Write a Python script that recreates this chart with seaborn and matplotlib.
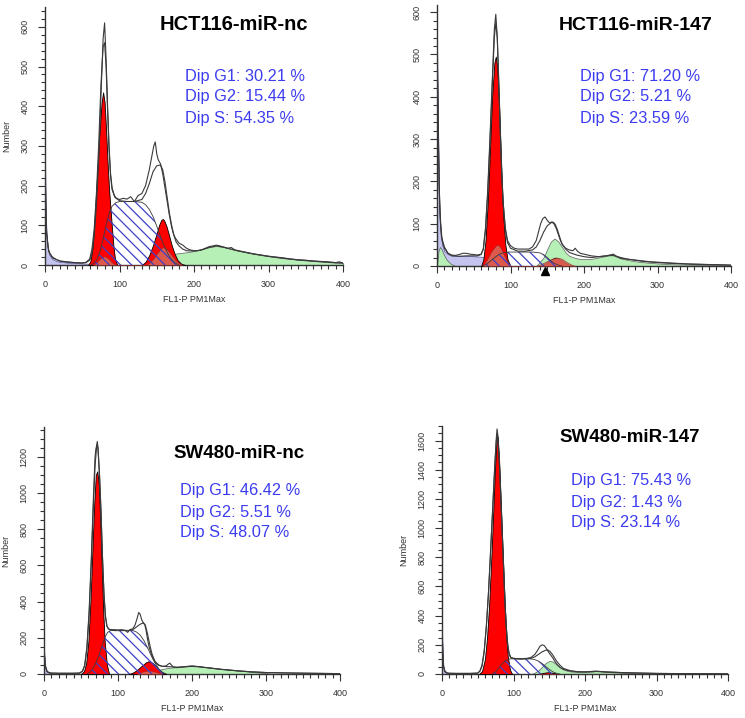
import numpy as np
import pandas as pd
import seaborn as sns
import matplotlib.pyplot as plt
from matplotlib.ticker import MultipleLocator
import matplotlib.transforms as mtransforms

# ---------------- panel titles / percentages ----------------
titles = ["HCT116-miR-nc", "HCT116-miR-147", "SW480-miR-nc", "SW480-miR-147"]
dip_g1 = ["30.21", "71.20", "46.42", "75.43"]
dip_g2 = ["15.44", "5.21", "5.51", "1.43"]
dip_s = ["54.35", "23.59", "48.07", "23.14"]

# ---------------- HCT116-miR-nc ----------------
p1_raw_x = [0, 1, 2, 4, 6, 10, 15, 20, 30, 40, 50, 55, 60, 63, 66, 69, 72, 75, 78, 80, 82, 84, 86, 88, 90, 93, 96,
            100, 105, 110, 115, 120, 125, 130, 135, 140, 143, 146, 148, 150, 152, 155, 158, 161, 164, 167, 170, 173,
            176, 180, 185, 190, 195, 200, 205, 210, 215, 220, 225, 230, 235, 240, 245, 250, 255, 260, 270, 280, 290,
            300, 310, 320, 330, 340, 350, 360, 370, 380, 390, 395, 400]
p1_raw_y = [280, 150, 90, 45, 30, 20, 14, 10, 8, 6, 5, 6, 12, 30, 70, 150, 260, 420, 570, 610, 520, 400, 300, 230,
            195, 175, 168, 165, 168, 166, 172, 160, 175, 180, 200, 240, 270, 300, 310, 280, 265, 255, 230, 195, 160,
            125, 95, 75, 65, 55, 50, 42, 38, 36, 36, 38, 42, 46, 48, 50, 48, 45, 42, 44, 38, 36, 32, 28, 25, 22, 20,
            18, 15, 13, 12, 10, 9, 8, 6, 8, 5]
p1_fit_x = [0, 2, 5, 10, 20, 30, 40, 50, 55, 60, 63, 66, 69, 72, 75, 78, 80, 82, 84, 86, 88, 90, 94, 100, 110, 120,
            130, 135, 140, 145, 150, 155, 158, 161, 164, 167, 170, 173, 176, 180, 185, 190, 200, 210, 220, 230, 240,
            250, 260, 280, 300, 320, 340, 360, 380, 400]
p1_fit_y = [250, 80, 35, 18, 10, 7, 6, 5, 7, 15, 40, 90, 180, 300, 450, 550, 560, 500, 390, 290, 225, 190, 170, 162,
            160, 160, 165, 180, 205, 235, 250, 252, 240, 210, 170, 130, 100, 75, 58, 48, 40, 36, 35, 38, 44, 48, 45,
            40, 35, 28, 22, 17, 13, 10, 7, 5]
p1_debris_x = [0, 1, 2, 4, 6, 10, 15, 20, 30, 40, 50, 60, 70]
p1_debris_y = [280, 140, 80, 40, 25, 15, 10, 8, 6, 5, 4, 3, 0]
p1_g1_x = [58, 61, 64, 67, 70, 73, 76, 78, 80, 82, 84, 86, 88, 90, 92, 94, 97]
p1_g1_y = [0, 10, 45, 130, 230, 330, 410, 435, 410, 340, 260, 190, 140, 90, 45, 15, 0]
p1_s_x = [62, 66, 70, 74, 78, 82, 86, 90, 95, 100, 110, 120, 130, 135, 140, 145, 150, 155, 160, 165, 170, 175, 180]
p1_s_y = [0, 5, 15, 35, 65, 100, 130, 148, 157, 160, 160, 160, 158, 152, 140, 122, 98, 72, 48, 28, 14, 5, 0]
p1_g2_x = [130, 135, 140, 145, 150, 153, 156, 158, 160, 163, 166, 170, 174, 178, 183, 188]
p1_g2_y = [0, 8, 25, 50, 80, 100, 113, 116, 112, 98, 78, 50, 28, 12, 3, 0]
p1_agg_x = [65, 70, 75, 80, 85, 90, 95, 135, 140, 145, 150, 155, 158, 162, 166, 170, 175, 180, 185]
p1_agg_y = [0, 8, 18, 22, 16, 6, 0, 0, 5, 15, 28, 40, 45, 42, 34, 24, 12, 4, 0]
p1_green_x = [140, 150, 160, 170, 180, 190, 200, 210, 220, 230, 240, 250, 260, 270, 280, 290, 300, 320, 340, 360,
              380, 400]
p1_green_y = [0, 10, 20, 27, 30, 32, 35, 40, 45, 48, 45, 40, 36, 32, 28, 25, 22, 17, 13, 10, 7, 5]

# ---------------- HCT116-miR-147 ----------------
p2_raw_x = [0, 1, 2, 3, 5, 7, 10, 15, 20, 25, 30, 35, 40, 45, 50, 55, 60, 63, 66, 69, 72, 75, 78, 80, 82, 84, 86,
            88, 90, 93, 96, 100, 105, 110, 115, 120, 125, 130, 135, 138, 141, 144, 147, 150, 153, 156, 159, 162, 165,
            168, 171, 175, 180, 185, 188, 191, 195, 200, 210, 220, 230, 235, 240, 245, 250, 260, 270, 280, 290, 300,
            310, 320, 340, 360, 380, 400]
p2_raw_y = [540, 420, 300, 180, 100, 60, 42, 30, 26, 25, 27, 30, 30, 28, 27, 26, 28, 40, 90, 180, 300, 430, 560, 595,
            540, 430, 320, 220, 150, 90, 60, 48, 42, 40, 40, 40, 40, 45, 60, 80, 100, 112, 116, 108, 102, 104, 100,
            90, 75, 60, 50, 42, 38, 36, 42, 35, 30, 28, 24, 22, 24, 26, 28, 22, 18, 16, 14, 12, 10, 9, 8, 7, 5, 4, 3,
            2]
p2_fit_x = [0, 2, 4, 6, 10, 15, 20, 30, 40, 50, 55, 60, 63, 66, 69, 72, 75, 78, 80, 82, 84, 86, 88, 90, 93, 96, 100,
            110, 120, 130, 135, 140, 145, 150, 155, 158, 161, 164, 167, 170, 175, 180, 190, 200, 210, 220, 230, 240,
            250, 260, 280, 300, 320, 350, 380, 400]
p2_fit_y = [520, 280, 120, 70, 45, 30, 24, 23, 24, 24, 24, 27, 40, 85, 170, 290, 420, 540, 575, 540, 440, 330, 230,
            150, 85, 55, 42, 35, 35, 38, 45, 60, 80, 95, 102, 104, 98, 85, 68, 52, 40, 32, 26, 22, 20, 22, 24, 25, 20,
            16, 11, 8, 6, 4, 3, 2]
p2_debris_x = [0, 1, 2, 3, 5, 7, 10, 15, 20, 30, 40, 50, 60, 65, 70, 80, 90]
p2_debris_y = [540, 400, 260, 150, 80, 50, 35, 28, 25, 24, 24, 23, 22, 20, 15, 6, 0]
p2_g1_x = [60, 63, 66, 69, 72, 75, 78, 80, 82, 84, 86, 88, 90, 93, 96, 100]
p2_g1_y = [0, 15, 60, 150, 270, 400, 480, 495, 470, 400, 300, 200, 120, 50, 15, 0]
p2_s_x = [62, 66, 70, 75, 80, 85, 90, 95, 100, 110, 120, 130, 140, 145, 150, 155, 160, 165, 170]
p2_s_y = [0, 3, 8, 15, 22, 28, 31, 33, 33, 33, 33, 33, 31, 27, 20, 12, 6, 2, 0]
p2_g2_x = [138, 145, 150, 155, 158, 161, 165, 170, 175, 180, 185]
p2_g2_y = [0, 4, 9, 15, 18, 20, 18, 13, 7, 3, 0]
p2_agg_x = [62, 68, 74, 80, 83, 86, 90, 95, 100, 135, 142, 150, 158, 164, 170, 176, 182, 188]
p2_agg_y = [0, 15, 35, 48, 50, 45, 30, 12, 0, 0, 5, 12, 18, 20, 17, 10, 4, 0]
p2_green_x = [0, 2, 4, 6, 9, 13, 18, 25, 135, 145, 150, 155, 160, 165, 170, 175, 180, 190, 200, 210, 220, 230, 235,
              240, 250, 260, 270, 280, 300, 320, 350, 400]
p2_green_y = [0, 35, 45, 40, 28, 15, 6, 0, 0, 20, 40, 58, 65, 58, 45, 32, 24, 18, 16, 17, 20, 24, 26, 25, 18, 14, 11,
              9, 6, 4, 3, 1]
p2_marker_x = 147

# ---------------- SW480-miR-nc ----------------
p3_raw_x = [0, 1, 2, 4, 7, 10, 20, 30, 40, 48, 52, 55, 58, 61, 64, 67, 69, 70, 71, 72, 73, 75, 77, 79, 81, 83, 85,
            87, 90, 95, 100, 105, 110, 113, 116, 120, 123, 126, 128, 130, 132, 134, 136, 138, 140, 142, 145, 148, 151,
            155, 160, 165, 168, 170, 172, 175, 180, 185, 190, 195, 200, 205, 210, 220, 230, 240, 250, 260, 270, 280,
            290, 300, 320, 340, 360, 380, 400]
p3_raw_y = [140, 80, 40, 15, 8, 5, 4, 4, 4, 5, 15, 50, 150, 350, 650, 1000, 1200, 1240, 1260, 1285, 1250, 1100, 900,
            650, 450, 320, 265, 250, 245, 245, 243, 245, 240, 230, 245, 250, 270, 310, 340, 330, 300, 285, 275, 240,
            190, 150, 110, 80, 60, 48, 42, 45, 55, 60, 50, 38, 35, 38, 40, 43, 45, 43, 40, 35, 30, 25, 22, 18, 15, 12,
            10, 8, 6, 5, 4, 3, 2]
p3_fit_x = [0, 2, 4, 8, 20, 40, 48, 52, 55, 58, 61, 64, 67, 69, 71, 72, 73, 75, 77, 79, 81, 83, 85, 88, 95, 105, 115,
            120, 125, 130, 134, 137, 140, 143, 146, 150, 155, 160, 170, 180, 190, 200, 210, 220, 240, 260, 280, 300,
            340, 400]
p3_fit_y = [130, 40, 12, 5, 4, 4, 5, 15, 45, 140, 330, 620, 960, 1150, 1250, 1270, 1240, 1100, 900, 650, 440, 320,
            265, 245, 240, 240, 240, 245, 260, 275, 282, 270, 220, 160, 110, 70, 50, 42, 40, 38, 40, 42, 40, 35, 26,
            18, 12, 8, 5, 2]
p3_debris_x = [0, 1, 2, 4, 7, 10, 15]
p3_debris_y = [140, 80, 40, 15, 6, 3, 0]
p3_g1_x = [50, 54, 57, 60, 63, 66, 68, 70, 72, 74, 76, 78, 80, 82, 85, 88]
p3_g1_y = [0, 15, 60, 180, 420, 750, 950, 1100, 1120, 1050, 850, 600, 350, 180, 50, 0]
p3_s_x = [58, 62, 66, 70, 74, 78, 82, 86, 90, 95, 100, 110, 120, 125, 130, 135, 140, 145, 150, 155, 160, 165]
p3_s_y = [0, 10, 30, 60, 100, 150, 200, 230, 240, 242, 242, 242, 240, 232, 215, 185, 145, 100, 60, 30, 10, 0]
p3_g2_x = [115, 120, 125, 130, 135, 138, 141, 144, 147, 150, 155, 160, 165]
p3_g2_y = [0, 8, 20, 38, 55, 65, 70, 68, 60, 48, 25, 8, 0]
p3_agg_x = [125, 135, 142, 150, 160]
p3_agg_y = [0, 15, 20, 12, 0]
p3_green_x = [140, 150, 160, 170, 180, 190, 200, 210, 220, 230, 240, 250, 260, 270, 280, 290, 300, 310]
p3_green_y = [0, 15, 28, 35, 38, 42, 45, 42, 38, 33, 28, 24, 20, 16, 12, 8, 5, 0]

# ---------------- SW480-miR-147 ----------------
p4_raw_x = [0, 1, 2, 4, 7, 10, 20, 40, 50, 53, 56, 59, 62, 65, 68, 71, 74, 76, 77, 78, 80, 82, 84, 86, 88, 90, 92,
            94, 96, 100, 105, 110, 115, 120, 125, 130, 134, 137, 140, 143, 146, 149, 152, 155, 158, 161, 165, 170,
            175, 180, 190, 200, 210, 215, 220, 230, 240, 250, 260, 270, 280, 290, 300, 320, 340, 360, 380, 400]
p4_raw_y = [310, 150, 60, 20, 8, 5, 4, 4, 6, 20, 60, 160, 330, 560, 850, 1150, 1450, 1620, 1680, 1640, 1480, 1250,
            1000, 750, 500, 320, 200, 140, 115, 108, 105, 104, 106, 108, 115, 135, 165, 190, 200, 195, 175, 150, 130,
            110, 85, 65, 45, 32, 25, 20, 15, 14, 18, 20, 18, 14, 12, 10, 8, 7, 6, 5, 4, 3, 3, 2, 2, 1]
p4_fit_x = [0, 2, 4, 8, 20, 40, 50, 53, 56, 59, 62, 65, 68, 71, 74, 76, 77, 78, 80, 82, 84, 86, 88, 90, 92, 94, 96,
            100, 110, 120, 125, 130, 135, 140, 145, 148, 151, 155, 160, 165, 170, 180, 190, 200, 210, 220, 230, 250,
            280, 300, 350, 400]
p4_fit_y = [300, 50, 15, 5, 4, 4, 6, 20, 55, 150, 320, 550, 840, 1140, 1440, 1600, 1640, 1620, 1470, 1240, 990, 740,
            490, 310, 190, 135, 112, 105, 102, 104, 108, 118, 135, 152, 163, 165, 155, 130, 90, 60, 38, 22, 16, 15,
            17, 17, 14, 10, 6, 4, 2, 1]
p4_debris_x = [0, 1, 2, 4, 7, 10]
p4_debris_y = [300, 140, 50, 15, 4, 0]
p4_g1_x = [52, 56, 60, 63, 66, 69, 72, 74, 76, 77, 78, 80, 82, 84, 86, 88, 90, 92, 95, 98]
p4_g1_y = [0, 20, 100, 250, 480, 800, 1150, 1400, 1580, 1640, 1620, 1450, 1200, 950, 700, 450, 250, 120, 30, 0]
p4_s_x = [70, 75, 80, 85, 90, 95, 100, 110, 120, 125, 130, 135, 140, 145, 150, 155, 160, 165]
p4_s_y = [0, 15, 45, 75, 95, 103, 105, 105, 105, 103, 98, 88, 72, 52, 32, 15, 5, 0]
p4_g2_x = [135, 142, 148, 155, 162]
p4_g2_y = [0, 8, 12, 8, 0]
p4_agg_x = [135, 142, 148, 155, 162]
p4_agg_y = [0, 0, 0, 0, 0]
p4_green_x = [125, 130, 135, 140, 145, 150, 155, 160, 165, 170, 175, 180, 190, 200, 210, 215, 220, 230, 240, 250,
              260, 270, 280, 290]
p4_green_y = [0, 10, 25, 50, 75, 90, 85, 65, 45, 30, 22, 17, 13, 12, 16, 20, 18, 14, 11, 9, 7, 5, 3, 0]

sns.set_style("ticks")
plt.rcParams['font.family'] = ['Liberation Sans', 'DejaVu Sans']
plt.rcParams['hatch.linewidth'] = 0.9

FW, FH = 745, 718
fig = plt.figure(figsize=(FW / 100, FH / 100), dpi=100)

LAV = "#c4c4ee"
GREEN = "#b6f0b6"
RED = "#ff0000"
HATCH = "#4040c8"
LINE = "#3a3a3a"


def px_axes(x0, x1, y0, ytop):
    # axes rectangle from pixel edges
    return fig.add_axes([x0 / FW, 1 - y0 / FH, (x1 - x0) / FW, (y0 - ytop) / FH])


def draw_panel(ax, raw, fit, debris, green, g1, s, g2, agg, ymax, ymajor, yminor, ylabel=True):
    ax.fill_between(debris[0], debris[1], color=LAV, ec="#5050a0", lw=0.5, zorder=1)
    ax.fill_between(green[0], green[1], color=GREEN, ec="#606060", lw=0.5, zorder=2)
    ax.fill_between(g1[0], g1[1], color=RED, ec="black", lw=0.6, zorder=3)
    ax.fill_between(g2[0], g2[1], color=RED, ec="black", lw=0.6, zorder=3)
    ax.fill_between(agg[0], agg[1], color="#d86a5a", alpha=0.85, ec="#803030", lw=0.4, zorder=4)
    ax.fill_between(s[0], s[1], facecolor="none", edgecolor=HATCH, hatch="\\\\\\", lw=0, zorder=5)
    ax.plot(s[0], s[1], color=LINE, lw=0.6, zorder=5)
    sns.lineplot(x=raw[0], y=raw[1], ax=ax, color=LINE, lw=0.8, zorder=6)
    sns.lineplot(x=fit[0], y=fit[1], ax=ax, color=LINE, lw=0.8, zorder=6)

    ax.set_xlim(0, 400)
    ax.set_ylim(0, ymax)
    ax.xaxis.set_major_locator(MultipleLocator(100))
    ax.xaxis.set_minor_locator(MultipleLocator(10))
    ax.yaxis.set_major_locator(MultipleLocator(ymajor))
    ax.yaxis.set_minor_locator(MultipleLocator(yminor))
    ax.tick_params(which="major", length=5, width=0.8, labelsize=6.5, colors="#333333", pad=6)
    ax.tick_params(which="minor", length=3, width=0.8, colors="#333333")
    for lab in ax.get_yticklabels():
        lab.set_rotation(90)
        lab.set_va("center")
    ax.set_xlabel("FL1-P PM1Max", fontsize=6.5, color="#333333", labelpad=4)
    ax.set_ylabel("Number" if ylabel else "", fontsize=6.5, color="#333333", labelpad=7)
    for sp in ["top", "right"]:
        ax.spines[sp].set_visible(False)
    for sp in ["left", "bottom"]:
        ax.spines[sp].set_color("#333333")
        ax.spines[sp].set_linewidth(1.0)


ax1 = px_axes(45, 343, 265, 7)
draw_panel(ax1, (p1_raw_x, p1_raw_y), (p1_fit_x, p1_fit_y), (p1_debris_x, p1_debris_y), (p1_green_x, p1_green_y),
           (p1_g1_x, p1_g1_y), (p1_s_x, p1_s_y), (p1_g2_x, p1_g2_y), (p1_agg_x, p1_agg_y), 650, 100, 20)

ax2 = px_axes(437, 731, 266, 5)
draw_panel(ax2, (p2_raw_x, p2_raw_y), (p2_fit_x, p2_fit_y), (p2_debris_x, p2_debris_y), (p2_green_x, p2_green_y),
           (p2_g1_x, p2_g1_y), (p2_s_x, p2_s_y), (p2_g2_x, p2_g2_y), (p2_agg_x, p2_agg_y), 617, 100, 20,
           ylabel=False)
trans = mtransforms.blended_transform_factory(ax2.transData, ax2.transAxes)
ax2.plot([p2_marker_x], [-0.019], marker="^", ms=5.5, color="black", transform=trans, clip_on=False, zorder=7)

ax3 = px_axes(44, 340, 674, 427)
draw_panel(ax3, (p3_raw_x, p3_raw_y), (p3_fit_x, p3_fit_y), (p3_debris_x, p3_debris_y), (p3_green_x, p3_green_y),
           (p3_g1_x, p3_g1_y), (p3_s_x, p3_s_y), (p3_g2_x, p3_g2_y), (p3_agg_x, p3_agg_y), 1365, 200, 50)

ax4 = px_axes(442, 728, 674, 426)
draw_panel(ax4, (p4_raw_x, p4_raw_y), (p4_fit_x, p4_fit_y), (p4_debris_x, p4_debris_y), (p4_green_x, p4_green_y),
           (p4_g1_x, p4_g1_y), (p4_s_x, p4_s_y), (p4_g2_x, p4_g2_y), (p4_agg_x, p4_agg_y), 1700, 200, 50)

# titles and percentages (pixel positions)
title_pos = [(234, 24), (636, 25), (239, 454), (630, 438)]
title_size = [14.5, 14, 13.5, 13.5]
text_pos = [(185, 76), (580, 76), (180, 491), (571, 481)]
for i in range(4):
    tx, ty = title_pos[i]
    fig.text(tx / FW, 1 - ty / FH, titles[i], fontsize=title_size[i], fontweight="bold", color="black",
             ha="center", va="center")
    bx, by = text_pos[i]
    lines = ["Dip G1: %s %%" % dip_g1[i], "Dip G2: %s %%" % dip_g2[i], "Dip S: %s %%" % dip_s[i]]
    for k, line in enumerate(lines):
        fig.text(bx / FW, 1 - (by + 21 * k) / FH, line, fontsize=11.8, color="#3c3cf0", ha="left", va="center")

fig.savefig("out.png", dpi=100)
